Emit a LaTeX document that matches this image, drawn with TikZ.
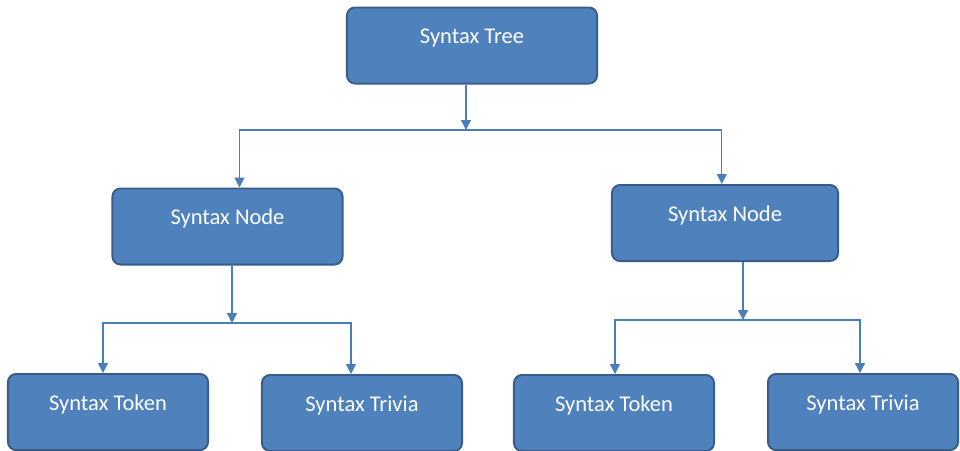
\documentclass[tikz,border=0pt]{standalone}
\usepackage{fontspec}
\setmainfont{Carlito}
\usetikzlibrary{arrows.meta}
\definecolor{boxblue}{HTML}{4F81BD}
\definecolor{boxedge}{HTML}{385D8A}
\definecolor{linkblue}{HTML}{4A7EBB}

\begin{document}
\begin{tikzpicture}[x=0.025cm,y=-0.025cm,
  box/.style={draw=boxedge,line width=1.4pt,fill=boxblue,rounded corners=0.2cm,text=white,
    font=\fontsize{16}{19}\selectfont,text height=0.9cm,text depth=1.0cm,inner ysep=0pt},
  link/.style={draw=linkblue,line width=0.9pt},
  arr/.style={link,-{Triangle[width=7pt,length=7pt]}}]
  \useasboundingbox (0,0) rectangle (960,450);
  \node[box,minimum width=6.25cm] (tree) at (472,45.5) {Syntax Tree};
  \node[box,minimum width=5.75cm] (nodeL) at (227.5,226.5) {Syntax Node};
  \node[box,minimum width=5.65cm] (nodeR) at (725,223) {Syntax Node};
  \node[box,minimum width=5cm] (tokL) at (108,412) {Syntax Token};
  \node[box,minimum width=5cm] (triL) at (362,413) {Syntax Trivia};
  \node[box,minimum width=5cm] (tokR) at (614,413) {Syntax Token};
  \node[box,minimum width=4.75cm] (triR) at (863,412) {Syntax Trivia};
  \coordinate (j0) at (466,130);
  \coordinate (jL) at (232,323);
  \coordinate (jR) at (743,320);
  \draw[arr] (tree.south -| j0) -- (j0);
  \draw[arr] (j0) -| ([xshift=0.3cm]nodeL.north);
  \draw[arr] (j0) -| ([xshift=-0.08cm]nodeR.north);
  \draw[arr] (nodeL.south -| jL) -- (jL);
  \draw[arr] (jL) -| ([xshift=-0.125cm]tokL.north);
  \draw[arr] (jL) -| ([xshift=-0.275cm]triL.north);
  \draw[arr] (nodeR.south -| jR) -- (jR);
  \draw[arr] (jR) -| ([xshift=0.025cm]tokR.north);
  \draw[arr] (jR) -| ([xshift=-0.075cm]triR.north);
\end{tikzpicture}
\end{document}
